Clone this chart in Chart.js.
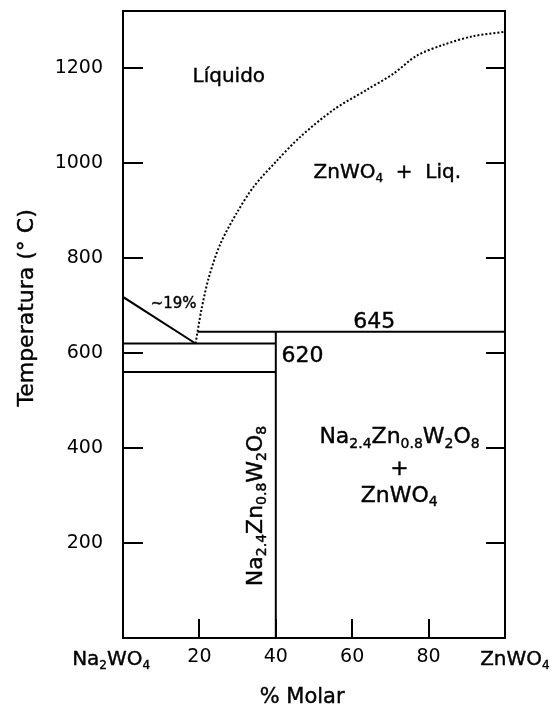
<!DOCTYPE html>
<html>
<head>
<meta charset="utf-8">
<script src="https://cdn.jsdelivr.net/npm/chart.js@4/dist/chart.umd.min.js"></script>
<style>
  html, body { margin: 0; padding: 0; background: #fff; }
  #wrap { width: 558px; height: 713px; }
</style>
</head>
<body>
<div id="wrap"><canvas id="c" width="558" height="713"></canvas></div>
<script>
// Phase diagram of the Na2WO4 – ZnWO4 system (composition in % molar ZnWO4, temperature in °C)

const compositionTicks = [20, 40, 60, 80];
const temperatureTicks = [200, 400, 600, 800, 1000, 1200];

// Liquidus on the Na2WO4 side, down to the eutectic (~19 %, 620 °C)
const liquidusLeftX = [0, 19];
const liquidusLeftT = [718, 620];

// ZnWO4 liquidus (dotted curve)
const liquidusRightX = [19, 20.5, 22.5, 25.5, 29.8, 34.2, 40.3, 46.4, 55.1, 63.8, 70.8, 76.9, 83.9, 91.7, 100];
const liquidusRightT = [620, 690, 760, 830, 895, 950, 1005, 1055, 1112, 1154, 1188, 1226, 1249, 1267, 1276];

// Invariant lines
const eutecticX = [0, 40];
const eutecticT = [620, 620];
const peritecticX = [19.5, 100];
const peritecticT = [645, 645];
const lowerLineX = [0, 40];
const lowerLineT = [560, 560];
const compoundX = [40, 40];
const compoundT = [0, 645];

const FONT = '"DejaVu Sans", sans-serif';
const INK = '#000';

const pts = (xs, ts) => xs.map((x, i) => ({ x, y: ts[i] }));
const solid = (xs, ts) => ({
  data: pts(xs, ts), showLine: true, pointRadius: 0, borderColor: INK,
  borderWidth: 2, fill: false, tension: 0
});

// formula pieces: [text, isSubscript]
const compound = [['Na'], ['2.4', 1], ['Zn'], ['0.8', 1], ['W'], ['2', 1], ['O'], ['8', 1]];

// text placed at (x %, T °C) with optional pixel offsets
const notes = [
  { parts: [['Líquido']], x: 27.7, t: 1170, size: 20, align: 'center' },
  { parts: [['ZnWO'], ['4', 1], ['  +  '], ['Liq.']], x: 49.9, t: 968, size: 20, align: 'left' },
  { parts: [['645']], x: 65.8, t: 645, dy: -4, size: 22, align: 'center' },
  { parts: [['620']], x: 41.5, t: 620, dy: 18, size: 22, align: 'left' },
  { parts: [['~19%']], x: 19, t: 620, dx: 1, dy: -36, size: 15, align: 'right' },
  { parts: compound, x: 36.4, t: 278, size: 22, align: 'center', angle: -Math.PI / 2 },
  { parts: compound, x: 72.4, t: 410, size: 22, align: 'center' },
  { parts: [['+']], x: 72.4, t: 344, size: 22, align: 'center' },
  { parts: [['ZnWO'], ['4', 1]], x: 72.3, t: 287, size: 22, align: 'center' },
  { parts: [['Na'], ['2', 1], ['WO'], ['4', 1]], x: -3.1, t: 0, dy: 27, size: 20, align: 'center' },
  { parts: [['ZnWO'], ['4', 1]], x: 102.6, t: 0, dy: 27, size: 20, align: 'center' },
  { parts: [['% Molar']], x: 46.9, t: 0, dy: 65, size: 21, align: 'center' },
  { parts: [['Temperatura (° C)']], x: -23.6, t: 695, size: 22, align: 'center', angle: -Math.PI / 2 }
];

function drawRich(ctx, parts, x, y, size, align, angle) {
  const subSize = Math.round(size * 0.62);
  const widths = parts.map(p => {
    ctx.font = (p[1] ? subSize : size) + 'px ' + FONT;
    return ctx.measureText(p[0]).width;
  });
  const total = widths.reduce((a, b) => a + b, 0);
  ctx.save();
  ctx.translate(x, y);
  if (angle) ctx.rotate(angle);
  ctx.textAlign = 'left';
  ctx.textBaseline = 'alphabetic';
  ctx.fillStyle = INK;
  ctx.strokeStyle = INK;
  ctx.lineWidth = 0.4;
  let cx = align === 'center' ? -total / 2 : align === 'right' ? -total : 0;
  parts.forEach((p, i) => {
    ctx.font = (p[1] ? subSize : size) + 'px ' + FONT;
    const ty = p[1] ? size * 0.2 : 0;
    ctx.fillText(p[0], cx, ty);
    ctx.strokeText(p[0], cx, ty);
    cx += widths[i];
  });
  ctx.restore();
}

const framePlugin = {
  id: 'frameAndNotes',
  afterDatasetsDraw(chart) {
    const { ctx, chartArea: a, scales: { x, y } } = chart;
    ctx.save();
    ctx.strokeStyle = INK;
    ctx.lineWidth = 2;
    ctx.strokeRect(a.left, a.top, a.right - a.left, a.bottom - a.top);
    ctx.beginPath();
    temperatureTicks.forEach(v => {
      const py = Math.round(y.getPixelForValue(v));
      ctx.moveTo(a.left, py); ctx.lineTo(a.left + 20, py);
      ctx.moveTo(a.right - 19, py); ctx.lineTo(a.right, py);
    });
    compositionTicks.forEach(v => {
      const px = Math.round(x.getPixelForValue(v));
      ctx.moveTo(px, a.bottom); ctx.lineTo(px, a.bottom - 19);
    });
    ctx.stroke();
    ctx.restore();

    notes.forEach(n => {
      const px = x.getPixelForValue(n.x) + (n.dx || 0);
      const py = y.getPixelForValue(n.t) + (n.dy || 0);
      drawRich(ctx, n.parts, px, py, n.size, n.align, n.angle);
    });
  }
};

new Chart(document.getElementById('c'), {
  type: 'scatter',
  data: {
    datasets: [
      solid(liquidusLeftX, liquidusLeftT),
      solid(eutecticX, eutecticT),
      solid(peritecticX, peritecticT),
      solid(lowerLineX, lowerLineT),
      solid(compoundX, compoundT),
      {
        data: pts(liquidusRightX, liquidusRightT), showLine: true, pointRadius: 0,
        borderColor: INK, borderWidth: 2, borderDash: [2, 2], fill: false,
        tension: 0.3
      }
    ]
  },
  options: {
    responsive: false,
    animation: false,
    devicePixelRatio: 1,
    layout: { padding: { top: 11, right: 53, left: 0, bottom: 0 } },
    plugins: { legend: { display: false }, tooltip: { enabled: false } },
    scales: {
      x: {
        type: 'linear', min: 0, max: 100,
        afterBuildTicks: s => { s.ticks = compositionTicks.map(v => ({ value: v })); },
        afterFit: s => { s.height = 75; s.paddingLeft = 0; s.paddingRight = 0; },
        grid: { display: false, drawTicks: false },
        border: { display: false },
        ticks: {
          color: INK, padding: 8, maxRotation: 0, autoSkip: false,
          font: { family: 'DejaVu Sans', size: 19 },
          callback: v => String(v)
        }
      },
      y: {
        type: 'linear', min: 0, max: 1320,
        afterBuildTicks: s => { s.ticks = temperatureTicks.map(v => ({ value: v })); },
        afterFit: s => { s.width = 123; s.paddingTop = 0; s.paddingBottom = 0; },
        grid: { display: false, drawTicks: false },
        border: { display: false },
        ticks: {
          color: INK, padding: 20, autoSkip: false,
          font: { family: 'DejaVu Sans', size: 19 },
          callback: v => String(v)
        }
      }
    }
  },
  plugins: [framePlugin]
});
</script>
</body>
</html>
